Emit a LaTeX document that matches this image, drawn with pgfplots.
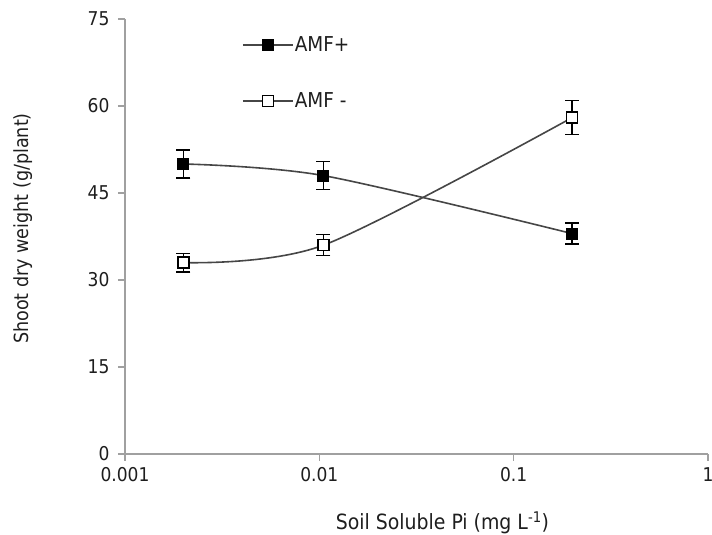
\documentclass[border=0pt]{standalone}
\usepackage{fontspec}
\setmainfont{DejaVu Sans Condensed}
\usepackage{pgfplots}
\pgfplotsset{compat=1.18}
\definecolor{axgray}{RGB}{160,160,160}
\definecolor{linegray}{RGB}{70,70,70}
\definecolor{txt}{RGB}{30,30,30}
\begin{document}
\fontsize{19pt}{22pt}\selectfont
\begin{tikzpicture}
\begin{axis}[
  scale only axis,
  width=583pt, height=435pt,
  xmode=log, log basis x=10,
  xmin=0.001, xmax=1, ymin=0, ymax=75,
  xtick={0.001,0.01,0.1,1},
  xticklabels={0.001,0.01,0.1,1},
  ytick={0,15,30,45,60,75},
  axis lines*=left,
  axis line style={axgray, line width=1.5pt, -},
  tick style={axgray, line width=1.5pt},
  tick align=outside,
  major tick length=7pt,
  xminorticks=false,
  tick label style={font=\fontsize{19pt}{22pt}\selectfont, text=txt},
  yticklabel style={xshift=-2pt},
  /pgf/number format/assume math mode=true,
  xlabel={Soil Soluble Pi (mg L\textsuperscript{-1})},
  ylabel={Shoot dry weight (g/plant)},
  label style={font=\fontsize{19.5pt}{22pt}\selectfont, text=txt, inner sep=0pt},
  xlabel style={font=\fontsize{21pt}{24pt}\selectfont, at={(axis description cs:0.5,0)}, anchor=base, yshift=-76pt, xshift=26pt},
  ylabel style={at={(axis description cs:0,0.5)}, anchor=south, yshift=92pt, xshift=8pt},
  clip=false,
  legend style={draw=none, fill=none, at={(0.2007,0.963)}, anchor=north west,
    row sep=36pt, font=\fontsize{20.5pt}{23pt}\selectfont, text=txt, inner sep=0pt,
    nodes={inner sep=1pt}},
  legend cell align=left,
  legend image code/.code={
    \draw[#1, mark=none, line width=1.6pt] (0pt,0pt) -- (50pt,0pt);
    \draw[#1, only marks] plot coordinates {(25pt,0pt)};
  },
]
\addplot[linegray, line width=1.6pt, smooth, tension=0.5,
  mark=square*, mark size=5.5pt, mark options={solid, fill=black, draw=black, line width=1pt},
  error bars/.cd, y dir=both, y explicit,
  error bar style={black, line width=1.4pt},
  error mark options={rotate=90, mark size=7pt, black, line width=1.4pt}]
coordinates {
  (0.002,50) +- (0,2.4)
  (0.0105,48) +- (0,2.4)
  (0.2,38) +- (0,1.8)
};
\addlegendentry{AMF+}
\addplot[linegray, line width=1.6pt, smooth, tension=0.5,
  mark=square*, mark size=5.5pt, mark options={solid, fill=white, draw=black, line width=1.3pt},
  error bars/.cd, y dir=both, y explicit,
  error bar style={black, line width=1.4pt},
  error mark options={rotate=90, mark size=7pt, black, line width=1.4pt}]
coordinates {
  (0.002,33) +- (0,1.6)
  (0.0105,36) +- (0,1.8)
  (0.2,58) +- (0,2.9)
};
\addlegendentry{AMF -}
\coordinate (bl) at (rel axis cs:0,0);
\coordinate (tr) at (rel axis cs:1,1);
\end{axis}
\pgfresetboundingbox
\path ([xshift=-125pt,yshift=-81pt]bl) rectangle ([xshift=4pt,yshift=19pt]tr);
\end{tikzpicture}
\end{document}
